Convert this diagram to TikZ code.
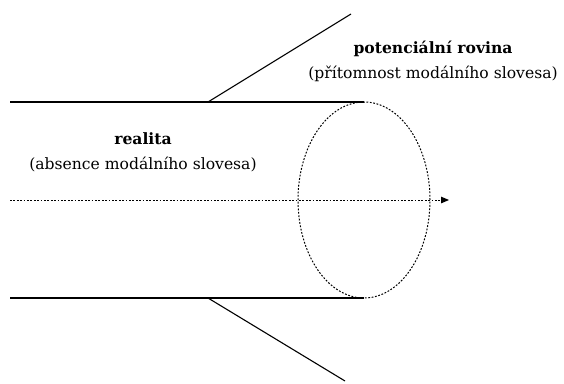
\documentclass[tikz,border=0pt]{standalone}
\usepackage{fontspec}
\setmainfont{DejaVu Serif}
\usetikzlibrary{arrows.meta,shapes.geometric}
\begin{document}
\begin{tikzpicture}[x=1pt,y=-1pt,
  edge/.style={line width=1.1pt},
  dotline/.style={line width=1pt,dash pattern=on 1.8pt off 1.6pt},
  label/.style={align=center,font=\fontsize{15.6}{25}\selectfont,inner sep=0pt}]
\useasboundingbox (0,0) rectangle (564,383);
% tube edges
\coordinate (tl) at (10,102);
\coordinate (tr) at (364,102);
\coordinate (bl) at (10,298);
\coordinate (br) at (364,298);
\coordinate (tk) at (208,102);
\coordinate (bk) at (208,298);
\coordinate (te) at (351,14);
\coordinate (be) at (345,381);
\draw[edge] (tl) -- (tr);
\draw[edge] (bl) -- (br);
\draw[edge] (tk) -- (te);
\draw[edge] (bk) -- (be);
% cross-section of the plane
\node[draw,dotline,ellipse,minimum width=132pt,minimum height=196pt,inner sep=0pt] (ring) at (364,200) {};
% time axis
\coordinate (as) at (10,200);
\coordinate (ae) at (449,200);
\draw[dotline,-{Triangle[length=8pt,width=6.5pt]}] (as) -- (ae);
% labels
\node[label] (pot) at (433,61) {\textbf{potenciální rovina}\\(přítomnost modálního slovesa)};
\node[label] (real) at (143,152) {\textbf{realita}\\(absence modálního slovesa)};
\end{tikzpicture}
\end{document}
